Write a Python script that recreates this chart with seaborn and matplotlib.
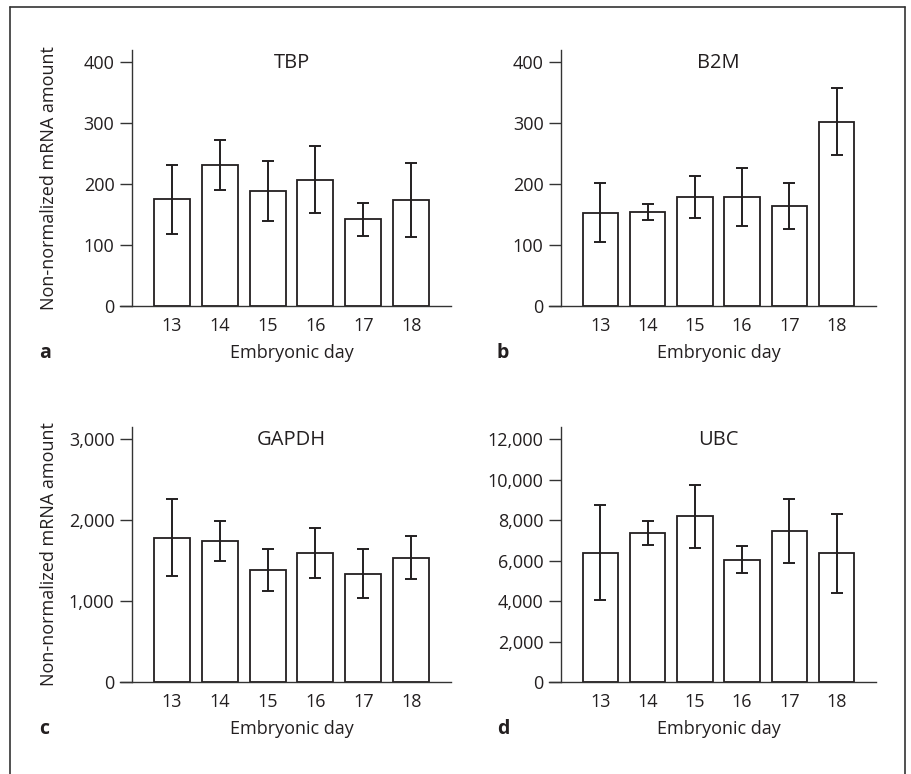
import matplotlib
matplotlib.use("Agg")
import matplotlib.pyplot as plt
from matplotlib.lines import Line2D
import seaborn as sns
import numpy as np

days = ["13", "14", "15", "16", "17", "18"]

tbp_mean = [175, 232, 189, 207, 142, 174]
tbp_err = [57, 41, 49, 55, 27, 60]

b2m_mean = [153, 154, 179, 179, 164, 302]
b2m_err = [48, 13, 35, 47, 38, 55]

gapdh_mean = [1784, 1747, 1380, 1599, 1339, 1537]
gapdh_err = [478, 247, 260, 309, 305, 262]

ubc_mean = [6395, 7384, 8192, 6049, 7450, 6362]
ubc_err = [2365, 594, 1549, 651, 1575, 1962]

titles = ["TBP", "B2M", "GAPDH", "UBC"]
letters = ["a", "b", "c", "d"]
yticks = [[0, 100, 200, 300, 400],
          [0, 100, 200, 300, 400],
          [0, 1000, 2000, 3000],
          [0, 2000, 4000, 6000, 8000, 10000, 12000]]

sns.set_theme(style="ticks")
plt.rcParams["font.family"] = ["Open Sans", "DejaVu Sans"]

W, H = 911, 774
fig = plt.figure(figsize=(W / 100, H / 100), dpi=100)

# axes boxes in pixels: left, right, top, bottom
boxes = [(132, 451, 50, 306), (561, 876, 50, 306),
         (132, 451, 427, 682), (561, 876, 427, 682)]
letter_pos = [(39, 353), (497, 353), (39, 729), (497, 729)]

data = [(tbp_mean, tbp_err), (b2m_mean, b2m_err),
        (gapdh_mean, gapdh_err), (ubc_mean, ubc_err)]

ink = "#231f20"
fs = 13

for i, (mean, err) in enumerate(data):
    l, r, t, b = boxes[i]
    ax = fig.add_axes([l / W, (H - b) / H, (r - l) / W, (b - t) / H])
    sns.barplot(x=days, y=mean, ax=ax, color="white", edgecolor=ink,
                linewidth=1.3, width=0.75, errorbar=None, saturation=1)
    ax.errorbar(np.arange(len(days)), mean, yerr=err, fmt="none",
                ecolor=ink, elinewidth=1.4, capsize=4.3, capthick=1.4)
    top = yticks[i][-1]
    ax.set_ylim(0, top * 1.05)
    ax.set_xlim(-0.83, 5.83)
    ax.set_yticks(yticks[i])
    ax.set_yticklabels([f"{v:,}" for v in yticks[i]])
    sns.despine(ax=ax)
    for s in ["left", "bottom"]:
        ax.spines[s].set_color("#333333")
        ax.spines[s].set_linewidth(1.0)
    ax.spines["bottom"].set_bounds(-0.83 - 0.25, 5.83)
    ax.tick_params(axis="y", direction="out", length=8.6, width=1.0,
                   color="#333333", pad=4, labelsize=fs, labelcolor=ink)
    ax.tick_params(axis="x", length=0, pad=8, labelsize=fs, labelcolor=ink)
    ax.text(0.5, 0.95, titles[i], transform=ax.transAxes, ha="center",
            va="center", fontsize=14.5, color=ink)
    ax.set_xlabel("Embryonic day", fontsize=fs, color=ink)
    ax.xaxis.set_label_coords(0.5, -38 / (b - t))
    if i % 2 == 0:
        ax.set_ylabel("Non-normalized mRNA amount", fontsize=fs, color=ink)
        ax.yaxis.set_label_coords((58 - l) / (r - l), 0.5)
    else:
        ax.set_ylabel("")
    lx, ly = letter_pos[i]
    fig.text(lx / W, 1 - ly / H, letters[i], fontsize=14, fontweight="bold",
             ha="left", va="center", color=ink)

# outer frame (open at the bottom)
for xs, ys in [([10, 10], [774, 7]), ([10, 905], [7, 7]), ([905, 905], [7, 774])]:
    fig.add_artist(Line2D([x / W for x in xs], [1 - y / H for y in ys],
                          transform=fig.transFigure, color="#333333", lw=1.2))

fig.savefig("out.png", dpi=100)
